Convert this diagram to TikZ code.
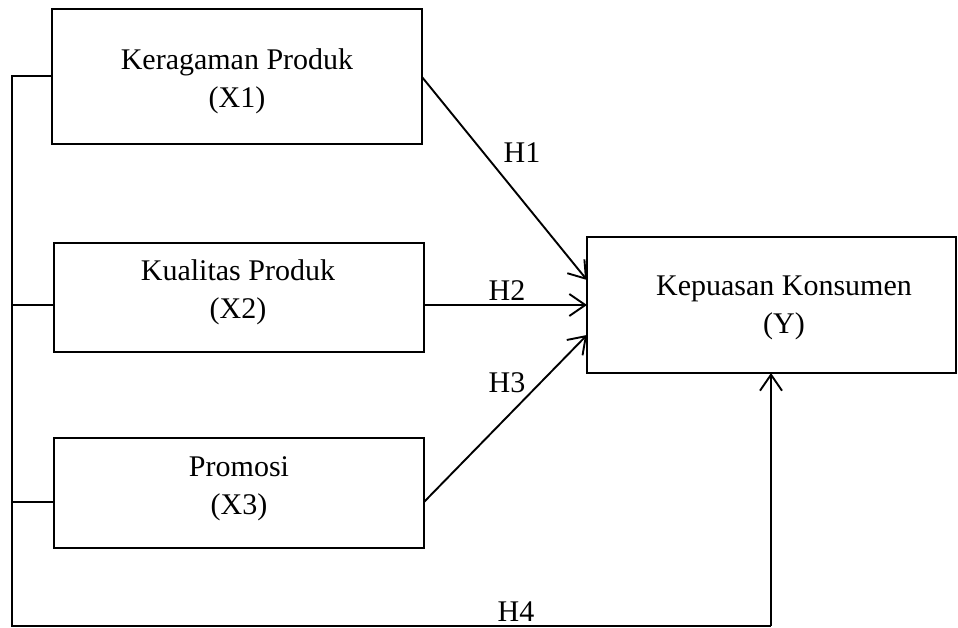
\documentclass[tikz,border=0pt]{standalone}
\usepackage{fontspec}
\setmainfont{Liberation Serif}
\usetikzlibrary{arrows.meta}
\begin{document}
\begin{tikzpicture}[x=1pt,y=-1pt,
  line width=1.9pt,
  box/.style={draw, rectangle, inner sep=0pt},
  txt/.style={align=center, inner sep=0pt, font=\fontsize{30}{38}\selectfont},
  hlab/.style={anchor=base, inner sep=0pt, font=\fontsize{30}{36}\selectfont},
  conn/.style={-{Straight Barb[length=16pt,width=22pt,line width=1.9pt]}}
]
\useasboundingbox (0,0) rectangle (958,628);
% boxes
\node[box, minimum width=370pt, minimum height=135pt] (x1) at (237,76.5) {};
\node[box, minimum width=370pt, minimum height=109pt] (x2) at (239,297.5) {};
\node[box, minimum width=370pt, minimum height=110pt] (x3) at (239,493) {};
\node[box, minimum width=369pt, minimum height=136pt] (y) at (771.5,305) {};
% texts
\node[txt] (x1t) at (237,81) {Keragaman Produk\\(X1)};
\node[txt] (x2t) at (238,292) {Kualitas Produk\\(X2)};
\node[txt] (x3t) at (239,489) {Promosi\\(X3)};
\node[txt] (yt) at (784,307.5) {Kepuasan Konsumen\\(Y)};
% coordinates
\coordinate (tl) at (12,76);
\coordinate (bl) at (12,626);
\coordinate (br) at (771,626);
\coordinate (x1o) at (422,77);
\coordinate (x2o) at (424,305);
\coordinate (x3o) at (424,502);
\coordinate (y1) at (587,280);
\coordinate (y2) at (587,305);
\coordinate (y3) at (587,335);
\coordinate (yb) at (771,373);
% left bracket
\draw (x1.west |- tl) -- (tl) -- (bl) -- (br);
\draw (x2.west |- x2o) -- (12,305);
\draw (x3.west |- x3o) -- (12,502);
% arrows
\draw[conn] (x1o) -- (y1);
\draw[conn] (x2o) -- (y2);
\draw[conn] (x3o) -- (y3);
\draw[conn] (br) -- (yb);
% labels
\node[hlab] (h1) at (522,163) {H1};
\node[hlab] (h2) at (507,301) {H2};
\node[hlab] (h3) at (507,392) {H3};
\node[hlab] (h4) at (516,621) {H4};
\end{tikzpicture}
\end{document}
